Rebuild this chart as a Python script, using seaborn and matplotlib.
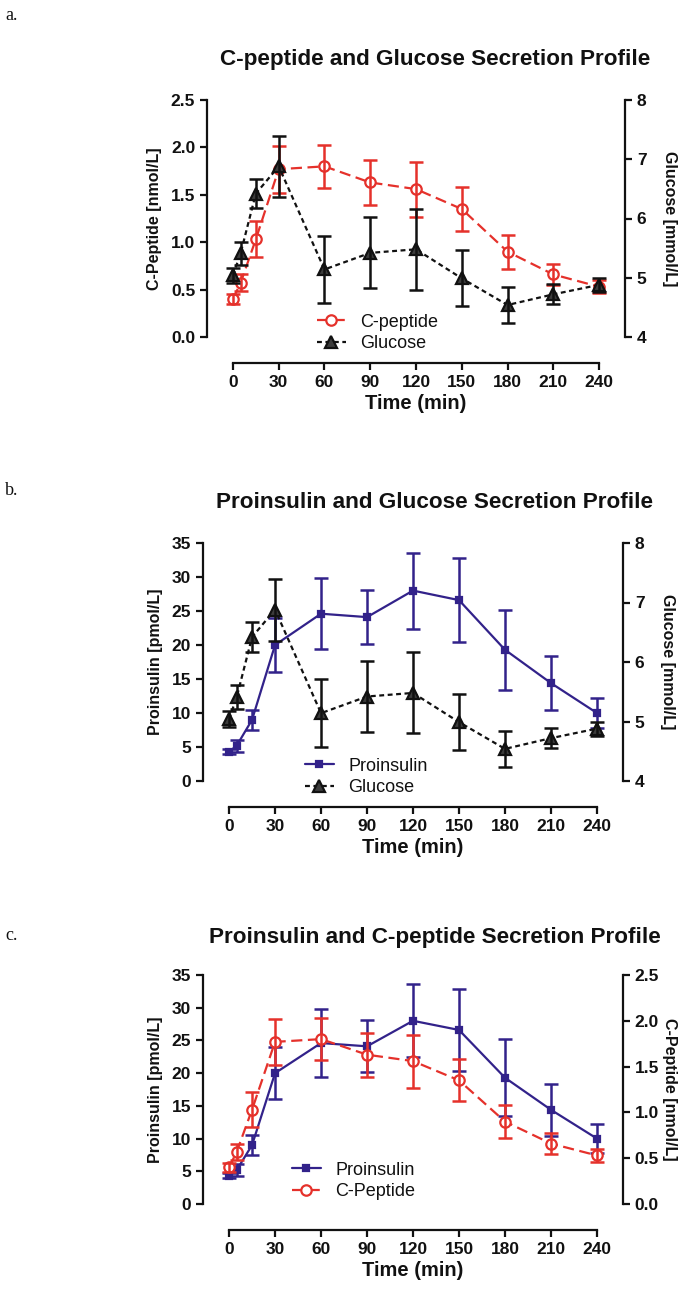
import matplotlib
matplotlib.use("Agg")
import matplotlib.pyplot as plt
import seaborn as sns
import numpy as np

# sampling times (min)
time = [0, 5, 15, 30, 60, 90, 120, 150, 180, 210, 240]

# C-peptide (nmol/L), mean and SEM
cpep = [0.40, 0.57, 1.03, 1.77, 1.80, 1.63, 1.56, 1.35, 0.90, 0.66, 0.53]
cpep_err = [0.05, 0.09, 0.19, 0.25, 0.23, 0.24, 0.29, 0.23, 0.18, 0.11, 0.07]

# Glucose (mmol/L)
gluc = [5.04, 5.41, 6.42, 6.88, 5.14, 5.42, 5.48, 4.99, 4.54, 4.72, 4.88]
gluc_err = [0.13, 0.20, 0.25, 0.52, 0.57, 0.60, 0.68, 0.47, 0.30, 0.17, 0.12]

# Proinsulin (pmol/L)
proins = [4.3, 5.2, 9.0, 20.0, 24.6, 24.1, 28.0, 26.6, 19.3, 14.4, 10.0]
proins_err = [0.4, 0.9, 1.5, 4.0, 5.2, 4.0, 5.6, 6.2, 5.9, 4.0, 2.2]

x_ticks = [0, 30, 60, 90, 120, 150, 180, 210, 240]
titles = ["C-peptide and Glucose Secretion Profile",
          "Proinsulin and Glucose Secretion Profile",
          "Proinsulin and C-peptide Secretion Profile"]
panel_labels = ["a.", "b.", "c."]

RED = "#e5312b"
PURPLE = "#32228a"
BLACK = "#111111"

sns.set_theme(style="ticks")
plt.rcParams["font.family"] = ["Liberation Sans", "DejaVu Sans"]
plt.rcParams["axes.linewidth"] = 1.6
plt.rcParams["text.color"] = BLACK
plt.rcParams["axes.labelcolor"] = BLACK
plt.rcParams["xtick.color"] = BLACK
plt.rcParams["ytick.color"] = BLACK
plt.rcParams["axes.edgecolor"] = BLACK

W, H = 689, 1294
fig = plt.figure(figsize=(W / 100, H / 100), dpi=100)


def fig_axes(left, right, top, bottom):
    return fig.add_axes([left / W, 1 - bottom / H, (right - left) / W, (bottom - top) / H])


def series(ax, y, err, color, marker, ls, mfc, ms, label):
    sns.lineplot(x=time, y=y, ax=ax, color=color, marker=marker, linestyle=ls,
                 markerfacecolor=mfc, markeredgecolor=color, markeredgewidth=1.6,
                 markersize=ms, linewidth=1.6, label=label, legend=False)
    ax.errorbar(time, y, yerr=err, fmt="none", ecolor=color, elinewidth=1.8,
                capsize=4.8, capthick=1.8)


def style_left(ax, ylim, yticks, fmt, ylabel):
    ax.set_xlim(-17, 257)
    ax.set_ylim(*ylim)
    ax.set_xticks(x_ticks)
    ax.set_yticks(yticks)
    ax.set_yticklabels([fmt.format(v) for v in yticks])
    ax.spines["top"].set_visible(False)
    ax.spines["right"].set_visible(False)
    ax.spines["bottom"].set_position(("outward", 19))
    ax.spines["bottom"].set_bounds(0, 240)
    ax.tick_params(axis="both", width=1.6, length=5, labelsize=12.5, color=BLACK)
    for t in ax.get_xticklabels() + ax.get_yticklabels():
        t.set_fontweight("bold")
    ax.set_xlabel("Time (min)", fontsize=14.5, fontweight="bold", labelpad=3)
    ax.set_ylabel(ylabel, fontsize=11.5, fontweight="bold", labelpad=6)


def style_right(ax, ylim, yticks, fmt, ylabel, pad):
    ax.set_ylim(*ylim)
    ax.set_yticks(yticks)
    ax.set_yticklabels([fmt.format(v) for v in yticks])
    for s in ["top", "left", "bottom"]:
        ax.spines[s].set_visible(False)
    ax.tick_params(axis="y", width=1.6, length=5, labelsize=12.5, color=BLACK)
    for t in ax.get_yticklabels():
        t.set_fontweight("bold")
    ax.set_ylabel(ylabel, fontsize=11.5, fontweight="bold", rotation=270, labelpad=pad)


def add_legend(ax, handles, labels, x, y):
    ax.legend(handles, labels, loc="center left", bbox_to_anchor=(x / W, 1 - y / H),
              bbox_transform=fig.transFigure, frameon=False, fontsize=13,
              handlelength=1.6, handletextpad=0.8, labelspacing=0.25,
              borderpad=0, borderaxespad=0)


# panel a
ax = fig_axes(207, 625, 100, 337)
series(ax, cpep, cpep_err, RED, "o", (0, (5, 2.5)), "white", 7.5, "C-peptide")
h1 = ax.lines[0]
style_left(ax, (0, 2.5), [0, 0.5, 1.0, 1.5, 2.0, 2.5], "{:.1f}", "C-Peptide [nmol/L]")
ax2 = ax.twinx()
series(ax2, gluc, gluc_err, BLACK, "^", (0, (2.2, 1.6)), "#3c3c3c", 8.5, "Glucose")
h2 = ax2.lines[0]
style_right(ax2, (4, 8), [4, 5, 6, 7, 8], "{:d}", "Glucose [mmol/L]", 22)
add_legend(ax2, [h1, h2], ["C-peptide", "Glucose"], 317, 333)

# panel b
ax = fig_axes(203, 623, 543, 781)
series(ax, proins, proins_err, PURPLE, "s", "-", PURPLE, 5, "Proinsulin")
h1 = ax.lines[0]
style_left(ax, (0, 35), list(range(0, 36, 5)), "{:d}", "Proinsulin [pmol/L]")
ax2 = ax.twinx()
series(ax2, gluc, gluc_err, BLACK, "^", (0, (2.2, 1.6)), "#3c3c3c", 8.5, "Glucose")
h2 = ax2.lines[0]
style_right(ax2, (4, 8), [4, 5, 6, 7, 8], "{:d}", "Glucose [mmol/L]", 22)
add_legend(ax2, [h1, h2], ["Proinsulin", "Glucose"], 305, 777)

# panel c
ax = fig_axes(203, 623, 975, 1204)
series(ax, proins, proins_err, PURPLE, "s", "-", PURPLE, 5, "Proinsulin")
h1 = ax.lines[0]
style_left(ax, (0, 35), list(range(0, 36, 5)), "{:d}", "Proinsulin [pmol/L]")
ax2 = ax.twinx()
series(ax2, cpep, cpep_err, RED, "o", (0, (5, 2.5)), "white", 7.5, "C-Peptide")
h2 = ax2.lines[0]
style_right(ax2, (0, 2.5), [0, 0.5, 1.0, 1.5, 2.0, 2.5], "{:.1f}", "C-Peptide [nmol/L]", 13)
add_legend(ax2, [h1, h2], ["Proinsulin", "C-Peptide"], 292, 1181)

# titles and panel letters
for t, yc in zip(titles, [60, 503, 937]):
    fig.text(435 / W, 1 - yc / H, t, ha="center", va="center", fontsize=16.2, fontweight="bold")
for lab, yc in zip(panel_labels, [15, 490, 935]):
    fig.text(5 / W, 1 - yc / H, lab, ha="left", va="center", fontsize=13,
             family=["Liberation Serif", "DejaVu Serif"])

fig.savefig("out.png", dpi=100)
